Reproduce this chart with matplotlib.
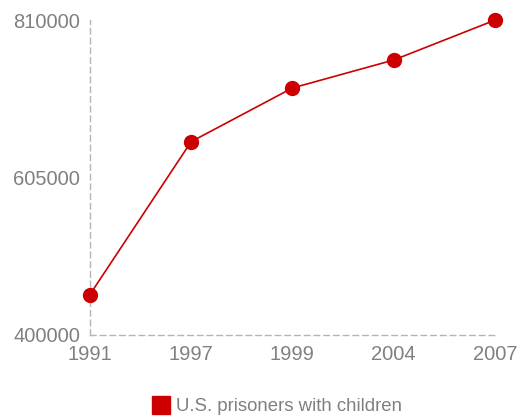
import matplotlib.pyplot as plt
from matplotlib.lines import Line2D

years = ['1991', '1997', '1999', '2004', '2007']
prisoners = [452500, 651600, 721500, 757900, 809800]
yticks = [400000, 605000, 810000]
series_name = 'U.S. prisoners with children'

red = '#cc0000'
grey = '#808080'

plt.rcParams['font.family'] = ['Liberation Sans', 'DejaVu Sans']

fig = plt.figure(figsize=(5.17, 4.18), dpi=100)
ax = fig.add_axes([0.174, 0.199, 0.783, 0.753])

x = list(range(len(years)))
ax.plot(x, prisoners, color=red, lw=1.2, marker='o', markersize=10, zorder=3, clip_on=False)

ax.set_xlim(0, len(years) - 1)
ax.set_ylim(400000, 810000)
ax.set_xticks(x)
ax.set_xticklabels(years)
ax.set_yticks(yticks)
ax.set_yticklabels([str(v) for v in yticks])
ax.tick_params(length=0, labelsize=14.5, labelcolor=grey)
ax.tick_params(axis='x', pad=7)
ax.tick_params(axis='y', pad=7)

for s in ['top', 'right']:
    ax.spines[s].set_visible(False)
for s in ['left', 'bottom']:
    ax.spines[s].set_color('#b5b5b5')
    ax.spines[s].set_linestyle((0, (4, 3)))
    ax.spines[s].set_linewidth(1)

handle = Line2D([], [], marker='s', color=red, linestyle='none', markersize=13)
fig.legend([handle], [series_name], loc='center', bbox_to_anchor=(0.536, 0.027),
           frameon=False, fontsize=13.4, labelcolor=grey, handletextpad=0.3,
           handlelength=1)

fig.savefig('out.png', dpi=100)
